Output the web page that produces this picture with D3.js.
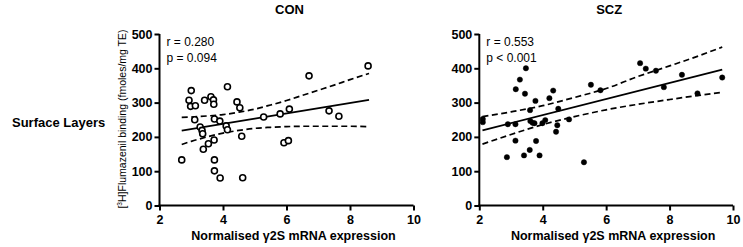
<!DOCTYPE html>
<html>
<head>
<meta charset="utf-8">
<script src="https://cdn.jsdelivr.net/npm/d3@7"></script>
<style>
    body { margin: 0; background: #fff; }
    svg text { font-family: "Liberation Sans", Arial, sans-serif; }
</style>
</head>
<body>
<div id="chart"></div>
<script>
// CON group (open circles)
const conX = [2.70, 2.93, 2.98, 3.00, 3.11, 3.13, 3.28, 3.34, 3.36, 3.38, 3.42, 3.54, 3.62, 3.70, 3.71, 3.72, 3.73, 3.73, 3.73,
    3.90, 3.91, 4.10, 4.14, 4.14, 4.44, 4.53, 4.59, 4.62, 5.28, 5.80, 5.92, 6.06, 6.09, 6.71, 7.34, 7.65, 8.57];
const conY = [133, 307, 289, 335, 250, 291, 229, 219, 209, 164, 307, 180, 317, 308, 295, 191, 252, 133, 101,
    246, 80, 232, 221, 346, 302, 285, 202, 81, 258, 267, 183, 189, 281, 378, 276, 260, 407];

// SCZ group (filled dots)
const sczX = [2.11, 2.11, 2.87, 2.90, 3.14, 3.14, 3.15, 3.28, 3.41, 3.44, 3.47, 3.59, 3.60, 3.61, 3.68, 3.74, 3.77, 3.79,
    3.90, 3.99, 4.08, 4.21, 4.33, 4.42, 4.46, 4.49, 4.83, 5.30, 5.52, 5.82, 7.07, 7.25, 7.57, 7.82, 8.39, 8.88, 9.66];
const sczY = [252, 243, 141, 237, 237, 189, 339, 367, 146, 326, 400, 162, 278, 246, 241, 240, 305, 188,
    146, 240, 249, 313, 335, 215, 234, 282, 251, 126, 352, 336, 415, 399, 393, 345, 381, 327, 373];

// regression lines (end points)
const conFitX = [2.70, 8.60];
const conFitY = [218, 308];
const sczFitX = [2.10, 9.66];
const sczFitY = [219, 396];

// 95% confidence bands
const conBandX = [2.7, 3, 3.5, 4, 4.5, 5, 5.5, 6, 6.5, 7, 7.5, 8, 8.6];
const conUpper = [257, 258, 261, 265, 272, 281, 293, 306, 321, 336, 351, 367, 385];
const conLower = [178, 187, 200, 211, 219, 225, 228, 230, 231, 231, 231, 231, 230];
const sczBandX = [2.1, 3, 4, 5, 6, 7, 8, 9, 9.66];
const sczUpper = [259, 273, 291, 315, 341, 376, 407, 439, 462];
const sczLower = [179, 207, 236, 259, 279, 295, 309, 322, 330];

// axis ticks
const xTicks = [2, 4, 6, 8, 10];
const yTicks = [0, 100, 200, 300, 400, 500];

const titles = ['CON', 'SCZ'];
const statR = ['r = 0.280', 'r = 0.553'];
const statP = ['p = 0.094', 'p < 0.001'];

const width = 743;
const height = 247;

const svg = d3.select('#chart')
    .append('svg')
    .attr('width', width)
    .attr('height', height);

function createScatterPanel(idx, xs, ys, fitX, fitY, bandX, upper, lower, left, right, filled)
{
    const xScale = d3.scaleLinear().domain([2, 10]).range([left, right]);
    const yScale = d3.scaleLinear().domain([0, 500]).range([205.5, 34]);

    const g = svg.append('g');

    // title
    g.append('text')
        .attr('x', (left + right) / 2 + 3)
        .attr('y', 13.5)
        .attr('text-anchor', 'middle')
        .attr('font-size', 13)
        .attr('font-weight', 'bold')
        .text(titles[idx]);

    // axes
    const xAxis = g.append('g')
        .attr('transform', `translate(0, ${yScale(0)})`)
        .call(d3.axisBottom(xScale).tickValues(xTicks).tickSize(5).tickPadding(5).tickSizeOuter(0));
    const yAxis = g.append('g')
        .attr('transform', `translate(${left}, 0)`)
        .call(d3.axisLeft(yScale).tickValues(yTicks).tickSize(5).tickPadding(2).tickSizeOuter(0));

    [xAxis, yAxis].forEach(a => {
        a.select('.domain').attr('stroke-width', 2).attr('stroke', '#000');
        a.selectAll('.tick line').attr('stroke-width', 2).attr('stroke', '#000');
        a.selectAll('.tick text')
            .attr('font-size', 12.5)
            .attr('font-weight', 'bold')
            .attr('fill', '#000')
            .style('font-family', '"Liberation Sans", Arial, sans-serif');
    });
    // x axis line runs past the y axis a little
    xAxis.select('.domain').attr('d', `M${left - 1},0H${right}`);
    yAxis.select('.domain').attr('d', `M0,${yScale(0) + 1}V${yScale(500)}`);

    // x axis title
    g.append('text')
        .attr('x', (left + right) / 2 + 7)
        .attr('y', 239.5)
        .attr('text-anchor', 'middle')
        .attr('font-size', 12.5)
        .attr('font-weight', 'bold')
        .text('Normalised \u03B32S mRNA expression');

    // stats
    g.append('text')
        .attr('x', left + 7)
        .attr('y', 45.5)
        .attr('font-size', 12)
        .text(statR[idx]);
    g.append('text')
        .attr('x', left + 7)
        .attr('y', 61.5)
        .attr('font-size', 12)
        .text(statP[idx]);

    // confidence bands
    const band = d3.line()
        .curve(d3.curveMonotoneX)
        .x((d, i) => xScale(bandX[i]))
        .y(d => yScale(d));
    [upper, lower].forEach(b => {
        g.append('path')
            .datum(b)
            .attr('fill', 'none')
            .attr('stroke', '#000')
            .attr('stroke-width', 1.7)
            .attr('stroke-dasharray', '6,3.5')
            .attr('d', band);
    });

    // regression line
    g.append('path')
        .datum(fitY)
        .attr('fill', 'none')
        .attr('stroke', '#000')
        .attr('stroke-width', 1.8)
        .attr('d', d3.line().x((d, i) => xScale(fitX[i])).y(d => yScale(d)));

    // points
    g.selectAll('circle')
        .data(xs)
        .enter()
        .append('circle')
        .attr('cx', d => xScale(d))
        .attr('cy', (d, i) => yScale(ys[i]))
        .attr('r', filled ? 2.7 : 3)
        .attr('fill', filled ? '#000' : '#fff')
        .attr('stroke', '#000')
        .attr('stroke-width', filled ? 0.4 : 1.6);
}

createScatterPanel(0, conX, conY, conFitX, conFitY, conBandX, conUpper, conLower, 159.5, 413.5, false);
createScatterPanel(1, sczX, sczY, sczFitX, sczFitY, sczBandX, sczUpper, sczLower, 479.3, 733, true);

// y axis title (left panel only)
svg.append('text')
    .attr('transform', 'translate(126, 119) rotate(-90)')
    .attr('text-anchor', 'middle')
    .attr('font-size', 10.5)
    .html('[<tspan font-size="6.5" dy="-4">3</tspan><tspan dy="4">H]Flumazenil binding (fmoles/mg TE)</tspan>');

// row label
svg.append('text')
    .attr('x', 12)
    .attr('y', 127)
    .attr('font-size', 13)
    .attr('font-weight', 'bold')
    .text('Surface Layers');
</script>
</body>
</html>
